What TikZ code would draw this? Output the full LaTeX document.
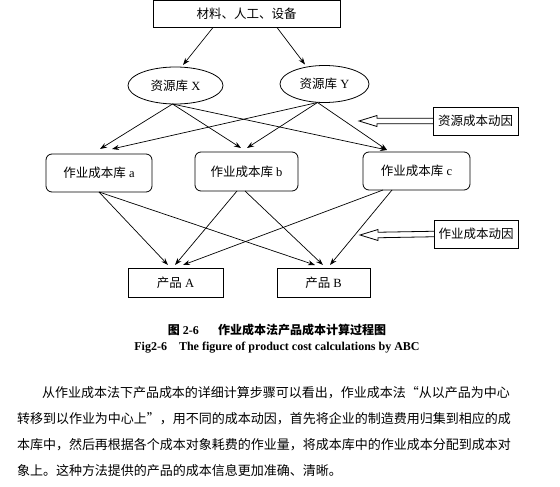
\documentclass[tikz,border=0pt]{standalone}
\usepackage{fontspec}
\setmainfont{Liberation Serif}
\newfontfamily\cjk{Noto Sans CJK SC}
\usetikzlibrary{shapes.geometric,arrows.meta,calc}
\begin{document}
\begin{tikzpicture}[x=1pt,y=-1pt,
  every node/.style={inner sep=0pt,outer sep=0pt},
  rectbox/.style={draw,line width=0.8pt,font=\fontsize{12.5}{14}\selectfont},
  roundbox/.style={rectbox,rounded corners=6pt},
  ellbox/.style={draw,ellipse,line width=0.8pt,font=\fontsize{12.5}{14}\selectfont},
  conn/.style={line width=0.7pt,-{Stealth[length=7pt,width=5pt]}},
  hollow/.style={line width=0.8pt,line join=miter},
  captxt/.style={font=\bfseries\fontsize{12}{14}\selectfont},
  bodytxt/.style={anchor=west,font=\cjk\fontsize{13}{15}\selectfont}]
\useasboundingbox (0,0) rectangle (560,487);
% nodes
\node[rectbox,minimum width=187pt,minimum height=27pt] (top) at (246.5,14) {\cjk 材料、人工、设备};
\node[ellbox,minimum width=95pt,minimum height=37pt] (X) at (175.5,85.5) {{\cjk 资源库} X};
\node[ellbox,minimum width=89pt,minimum height=37pt] (Y) at (324.5,84) {{\cjk 资源库} Y};
\node[roundbox,minimum width=106pt,minimum height=38pt] (a) at (99,173) {{\cjk 作业成本库} a};
\node[roundbox,minimum width=103pt,minimum height=39pt] (b) at (246.5,171.5) {{\cjk 作业成本库} b};
\node[roundbox,minimum width=107pt,minimum height=38pt] (c) at (416.5,171) {{\cjk 作业成本库} c};
\node[rectbox,minimum width=95pt,minimum height=29pt] (A) at (175.5,282.5) {{\cjk 产品} A};
\node[rectbox,minimum width=93pt,minimum height=29pt] (B) at (323.5,282.5) {{\cjk 产品} B};
\node[rectbox,minimum width=85pt,minimum height=28pt] (d1) at (475.5,121) {\cjk 资源成本动因};
\node[rectbox,minimum width=84pt,minimum height=28pt] (d2) at (476,234) {\cjk 作业成本动因};
% connectors
\draw[conn] ([xshift=-33.5pt]top.south) -- ([xshift=7.5pt,yshift=2pt]X.north);
\draw[conn] ([xshift=30.5pt]top.south) -- ([xshift=-19.5pt,yshift=1pt]Y.north);
\draw[conn] ([xshift=-3pt]X.south) -- ([xshift=1pt,yshift=5pt]a.north);
\draw[conn] ([xshift=-3pt]X.south) -- ([xshift=-5.5pt,yshift=4pt]b.north);
\draw[conn] ([xshift=-3pt]X.south) -- ([xshift=-29.5pt,yshift=2pt]c.north);
\draw[conn] ([xshift=-7pt]Y.south) -- ([xshift=13pt,yshift=5pt]a.north);
\draw[conn] ([xshift=-7pt]Y.south) -- ([xshift=0.5pt,yshift=4pt]b.north);
\draw[conn] ([xshift=-7pt]Y.south) -- ([xshift=-29.5pt,yshift=2pt]c.north);
\draw[conn] (a.south) -- ([xshift=-7.5pt,yshift=3pt]A.north);
\draw[conn] (a.south) -- ([xshift=-8.5pt,yshift=3pt]B.north);
\draw[conn] ([xshift=-9.5pt]b.south) -- ([xshift=-0.5pt,yshift=3pt]A.north);
\draw[conn] ([xshift=-1.5pt]b.south) -- ([xshift=-0.5pt,yshift=3pt]B.north);
\draw[conn] ([xshift=-33.5pt]c.south) -- ([xshift=7.5pt,yshift=3pt]A.north);
\draw[conn] ([xshift=-24.5pt]c.south) -- ([xshift=6.5pt,yshift=3pt]B.north);
% hollow arrows
\coordinate (t1) at (359,121);
\coordinate (t2) at (360,235);
\draw[hollow] ($(d1.west)+(0,-2.75)$) -- ($(t1)+(18,-2.75)$) -- ($(t1)+(18,-5.5)$) -- (t1)
  -- ($(t1)+(18,5.5)$) -- ($(t1)+(18,2.75)$) -- ($(d1.west)+(0,2.75)$);
\draw[hollow] ($(d2.west)+(0,-2.75)$) -- ($(t2)+(18,-2.75)$) -- ($(t2)+(18,-5.5)$) -- (t2)
  -- ($(t2)+(18,5.5)$) -- ($(t2)+(18,2.75)$) -- ($(d2.west)+(0,2.75)$);
% caption
\node[captxt] (cap1) at (277,330) {{\cjk 图} 2-6\hspace{1.6em}{\cjk 作业成本法产品成本计算过程图}};
\node[captxt] (cap2) at (277,348) {Fig2-6\hspace{1em}The figure of product cost calculations by ABC};
% paragraph
\node[bodytxt] (p1) at (42,393) {从作业成本法下产品成本的详细计算步骤可以看出，作业成本法“从以产品为中心};
\node[bodytxt] (p2) at (17,419) {转移到以作业为中心上”，用不同的成本动因，首先将企业的制造费用归集到相应的成};
\node[bodytxt] (p3) at (17,445) {本库中，然后再根据各个成本对象耗费的作业量，将成本库中的作业成本分配到成本对};
\node[bodytxt] (p4) at (17,471) {象上。这种方法提供的产品的成本信息更加准确、清晰。};
\end{tikzpicture}
\end{document}
